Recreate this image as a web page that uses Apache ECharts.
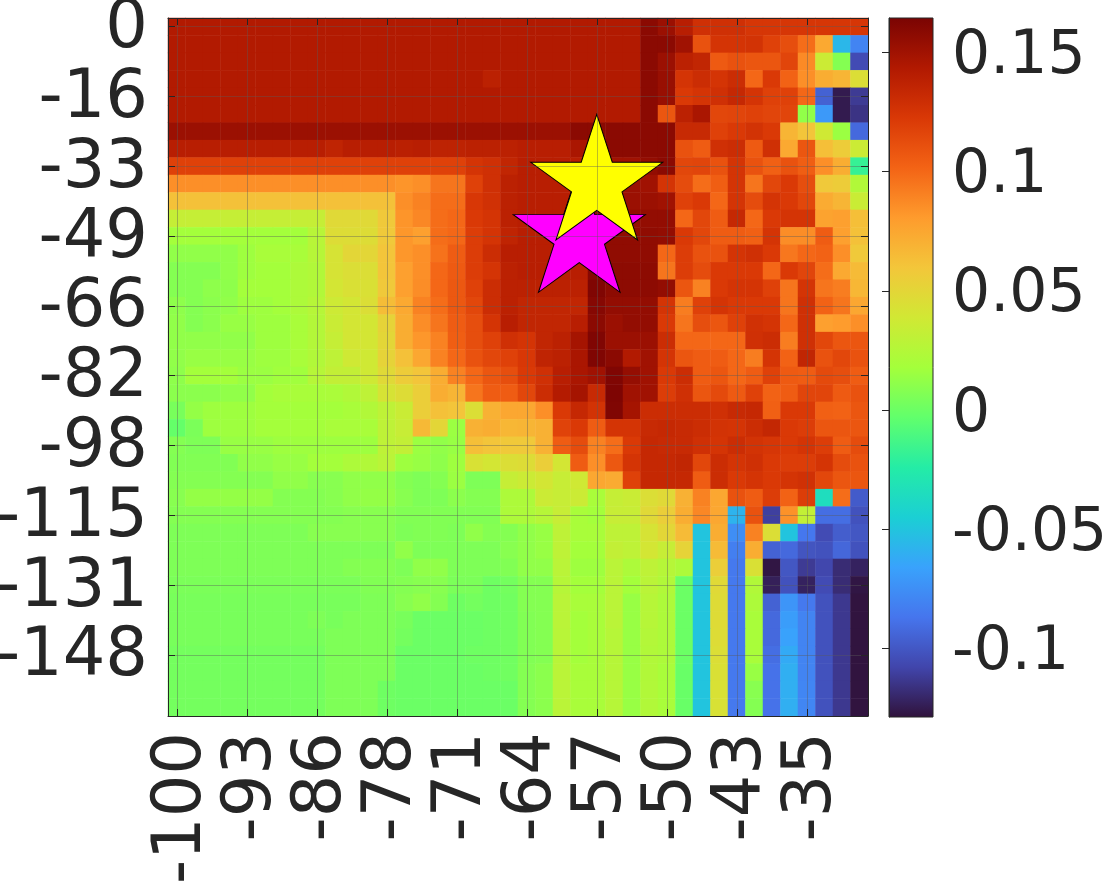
<!DOCTYPE html>
<html><head><meta charset="utf-8">
<script src="https://cdn.jsdelivr.net/npm/echarts@6/dist/echarts.min.js"></script>
<style>html,body{margin:0;padding:0;background:#fff}#c{width:1102px;height:885px}</style>
</head><body><div id="c"></div>
<script>
const xCategories=[-100,-98,-96,-95,-93,-91,-89,-87,-86,-84,-82,-80,-78,-77,-75,-73,-71,-69,-68,-66,-64,-62,-60,-59,-57,-55,-53,-52,-50,-48,-46,-44,-43,-41,-39,-37,-35,-34,-32,-30];
const yCategories=[0,-4,-8,-12,-16,-21,-25,-29,-33,-37,-41,-45,-49,-53,-57,-62,-66,-70,-74,-78,-82,-86,-90,-94,-98,-103,-107,-111,-115,-119,-123,-127,-131,-135,-139,-144,-148,-152,-156,-160];
const colorbarTicks=[-0.1,-0.05,0,0.05,0.1,0.15];
const colorMin=-0.1287, colorMax=0.1644;
const turbo=["#30123b","#4145ab","#4675ed","#39a2fc","#1bcfd4","#24eca6","#61ff6c","#a4ff3b","#d1e834","#f3c63a","#fe9b2d","#f36315","#d93806","#b11901","#7a0403"];
const yellowStar=[24,9], magentaStar=[23,12];
// values in thousandths, top row first
const r00=[143,143,143,143,143,143,143,143,143,143,143,143,143,143,143,143,143,143,143,143, 143,143,143,143,143,143,143,158,152,140,128,128,128,124,124,124,124,124,124,124];
const r01=[143,143,143,143,143,143,143,143,143,143,143,143,143,143,143,143,143,143,143,143, 143,143,143,143,143,143,143,158,158,150,110,125,125,126,118,112,98,74,-56,-80];
const r02=[143,143,143,143,143,143,143,143,143,143,143,143,143,143,143,143,143,143,143,143, 143,143,143,143,143,143,143,158,152,138,135,106,110,108,108,116,87,36,8,-105];
const r03=[143,143,143,143,143,143,143,143,143,143,143,143,143,143,143,143,143,143,138,143, 143,143,143,143,143,143,143,158,153,125,130,125,130,100,122,102,85,72,68,45];
const r04=[143,143,143,143,143,143,143,143,143,143,143,143,143,143,143,143,143,143,143,143, 143,143,143,143,143,143,143,158,153,122,125,128,133,125,118,118,100,-95,-125,-112];
const r05=[143,143,143,143,143,143,143,143,143,143,143,143,143,143,143,143,143,143,143,143, 143,143,143,143,143,143,143,158,108,138,146,115,116,118,116,116,12,-70,-125,-115];
const r06=[152,152,152,152,152,152,152,152,152,152,152,152,152,152,152,152,152,152,152,152, 152,152,152,158,158,158,158,158,158,132,132,118,122,126,122,68,60,38,15,-92];
const r07=[140,140,140,140,140,140,140,140,140,136,140,140,140,139,140,137,137,138,138,138, 140,140,140,146,158,158,158,158,158,110,105,128,130,106,128,74,108,63,56,36];
const r08=[118,118,118,118,118,118,118,118,118,118,118,118,118,118,118,118,118,125,128,135, 140,140,140,140,150,150,150,155,158,115,116,110,125,110,103,110,104,85,72,-18];
const r09=[85,85,85,85,85,85,85,85,85,85,85,85,85,83,85,95,95,118,128,138, 140,140,140,140,152,152,152,150,125,113,98,104,125,95,115,122,112,58,56,24];
const r10=[62,62,62,62,62,62,62,62,62,62,62,62,62,85,90,98,98,123,127,138, 140,140,140,140,152,152,152,152,150,118,122,100,125,113,125,122,115,73,68,35];
const r11=[33,33,33,33,33,33,33,33,33,48,48,48,58,83,88,98,100,122,125,138, 140,140,140,140,155,155,155,155,155,100,115,105,133,100,122,125,125,77,78,63];
const r12=[18,18,18,18,18,18,18,18,27,46,46,46,58,82,78,98,100,120,125,136, 140,140,140,140,156,156,156,156,155,122,115,105,105,103,125,86,86,105,78,62];
const r13=[12,12,12,12,16,20,20,20,26,42,50,50,60,82,85,96,105,120,130,140, 140,140,140,140,158,156,156,156,100,120,110,110,125,128,122,94,100,102,85,58];
const r14=[8,8,8,12,16,18,18,22,24,42,45,45,60,78,85,100,106,120,125,138, 140,140,140,140,160,157,157,157,95,120,113,122,122,122,100,122,116,98,74,65];
const r15=[8,8,11,11,18,18,18,22,24,40,44,44,58,78,86,100,107,118,130,138, 138,138,138,138,162,157,157,157,155,108,90,122,125,125,118,95,125,95,92,67];
const r16=[11,8,10,12,16,16,18,22,26,37,40,45,64,74,90,98,107,115,130,138, 135,135,135,135,160,155,155,155,125,92,118,125,122,122,122,95,128,102,95,75];
const r17=[12,8,10,14,14,16,16,20,25,35,40,40,52,72,86,95,105,112,125,140, 135,135,135,140,158,152,155,155,122,95,112,108,118,127,125,100,128,78,80,85];
const r18=[12,12,12,12,12,16,16,20,25,33,40,40,50,72,82,90,104,112,118,128, 125,135,138,148,162,152,152,152,130,100,100,100,100,128,130,92,128,115,108,108];
const r19=[12,14,14,14,14,16,16,20,24,30,38,38,52,62,75,90,100,110,115,118, 123,136,138,146,162,158,143,150,125,108,105,105,100,92,125,102,135,110,115,110];
const r20=[11,18,18,18,15,15,17,17,26,32,32,38,48,56,60,72,90,100,108,112, 122,128,140,146,150,162,154,150,122,130,105,108,100,105,118,106,105,114,112,105];
const r21=[10,10,10,12,12,18,20,20,20,21,24,30,42,46,55,72,68,95,105,105, 115,130,142,148,132,163,150,150,120,128,108,114,106,118,102,105,116,116,106,110];
const r22=[4,13,16,16,16,18,18,18,18,18,20,24,30,35,55,62,60,45,70,75, 75,85,122,133,126,162,148,130,130,130,130,128,132,133,103,122,122,103,102,108];
const r23=[-2,5,16,16,16,18,18,18,18,20,20,20,30,34,66,50,15,70,72,67, 68,70,117,122,105,125,125,132,133,132,130,126,125,130,134,122,120,108,108,108];
const r24=[8,6,6,14,14,14,16,16,16,16,16,16,30,32,15,12,14,63,60,58, 58,70,105,113,90,98,122,133,132,132,128,125,130,126,124,122,125,120,105,113];
const r25=[7,7,7,7,12,12,14,14,18,18,22,24,28,16,14,11,16,43,40,45, 46,55,40,105,85,107,125,133,133,135,115,130,125,128,122,120,120,125,113,110];
const r26=[8,8,8,8,8,8,12,12,9,9,12,12,12,8,6,8,15,6,6,33, 36,40,34,38,75,73,118,133,133,133,105,130,122,125,122,125,127,115,108,108];
const r27=[9,13,13,13,13,13,8,8,8,9,12,13,13,9,6,6,10,8,8,22, 22,36,34,36,20,33,35,45,48,70,90,75,110,105,120,102,120,-35,98,-98];
const r28=[8,8,8,8,8,8,8,8,8,8,9,9,9,7,7,7,7,7,7,22, 22,26,34,20,18,34,34,48,55,72,88,75,-58,110,-110,84,32,-90,-90,-102];
const r29=[6,6,6,6,6,6,6,6,9,9,9,9,9,6,7,7,6,12,8,8, 12,14,30,20,20,30,30,42,50,65,-50,72,-75,90,45,-50,-86,-105,-97,-100];
const r30=[6,6,6,6,6,6,6,6,6,6,6,6,6,12,6,6,6,6,6,9, 12,14,30,18,18,32,30,40,34,52,-50,65,-82,72,-95,-92,-101,-102,-93,-102];
const r31=[6,6,6,6,6,6,6,6,6,6,8,8,8,6,12,12,6,6,6,7, 12,12,28,16,16,28,22,30,26,22,-50,55,-85,44,-127,-100,-112,-107,-118,-122];
const r32=[5,5,5,5,5,5,5,5,5,5,5,7,7,8,9,9,5,5,1,3, 8,8,26,18,18,28,18,28,24,0,-50,48,-85,24,-123,-102,-122,-105,-118,-127];
const r33=[4,4,4,4,4,4,4,4,4,4,4,6,6,9,12,8,1,3,1,2, 8,8,28,20,20,28,14,26,22,0,-50,47,-85,22,-95,-72,-85,-102,-113,-128];
const r34=[4,4,4,4,4,4,4,4,6,4,6,6,6,4,0,0,0,0,1,2, 7,8,28,18,20,28,14,26,22,0,-50,47,-85,20,-92,-68,-80,-102,-113,-128];
const r35=[4,4,4,4,4,4,4,4,4,6,6,6,6,3,0,0,0,0,1,2, 7,8,27,18,20,26,14,25,22,0,-50,46,-85,20,-92,-66,-80,-102,-113,-128];
const r36=[3,3,3,3,3,3,3,3,3,6,6,6,6,0,0,0,0,1,1,2, 7,8,27,18,20,26,14,24,22,0,-50,45,-85,20,-90,-62,-80,-102,-113,-128];
const r37=[3,3,3,3,3,3,3,3,3,6,6,6,6,0,0,0,0,0,1,2, 8,10,28,20,20,26,14,24,20,-1,-50,44,-85,14,-88,-60,-80,-102,-113,-128];
const r38=[3,3,3,3,3,3,3,3,3,6,6,6,1,0,0,0,0,0,0,0, 8,10,28,20,20,26,14,24,20,-1,-50,43,-85,9,-88,-60,-79,-102,-113,-128];
const r39=[3,3,3,3,3,3,3,3,3,6,6,6,1,0,0,0,0,0,0,0, 8,10,28,20,20,26,14,24,20,-1,-50,43,-85,8,-88,-60,-79,-102,-113,-128];
const rows=[r00,r01,r02,r03,r04,r05,r06,r07,r08,r09,r10,r11,r12,r13,r14,r15,r16,r17,r18,r19,r20,r21,r22,r23,r24,r25,r26,r27,r28,r29,r30,r31,r32,r33,r34,r35,r36,r37,r38,r39];

const cells=[];
rows.forEach((row,y)=>row.forEach((v,x)=>cells.push([x,y,v/1000])));

const INK='#262626', FONT='DejaVu Sans', FS=67, CBFS=60;
const starPath='path://M50 0L61.2 34.5L97.6 34.5L68.2 55.9L79.4 90.5L50 69.1L20.6 90.5L31.8 55.9L2.4 34.5L38.8 34.5Z';
const gridLine={show:true,interval:3,alignWithLabel:true,lineStyle:{color:'rgba(90,90,90,0.4)',width:1}};
const tick={show:true,inside:true,length:7,interval:3,alignWithLabel:true,lineStyle:{color:INK,width:1}};
const line={show:true,lineStyle:{color:INK,width:1}};
const star=(pt,color,z)=>({type:'scatter',xAxisIndex:0,yAxisIndex:0,z,symbol:starPath,symbolSize:[132,125.5],symbolOffset:[0,-6.6],
  itemStyle:{color,opacity:1,borderColor:'#000',borderWidth:1},data:[pt],silent:true});
const barFill=new echarts.graphic.LinearGradient(0,1,0,0,turbo.map((c,i)=>({offset:i/(turbo.length-1),color:c})));
const richLabel=(size,pad)=>({a:{fontSize:size,color:INK,fontFamily:FONT,padding:[pad,0,0,0]}});

const chart=echarts.init(document.getElementById('c'),null,{renderer:'canvas'});
chart.setOption({
  animation:false,backgroundColor:'#fff',
  textStyle:{fontFamily:FONT},
  grid:[
    {left:168,top:18,width:700,height:698,containLabel:false,outerBoundsMode:'none'},
    {left:889,top:18,width:44,height:699,containLabel:false,outerBoundsMode:'none',show:true,borderColor:INK,borderWidth:1,backgroundColor:barFill}
  ],
  xAxis:[
    {type:'category',gridIndex:0,data:xCategories,position:'bottom',z:10,axisLine:line,axisTick:tick,splitLine:gridLine,
      axisLabel:{interval:3,rotate:90,fontSize:FS,color:INK,fontFamily:FONT,margin:16,hideOverlap:false,formatter:v=>`{a|${v}}`,rich:richLabel(FS,12)}},
    {type:'category',gridIndex:0,data:xCategories,position:'top',z:10,axisLine:line,axisTick:tick,splitLine:{show:false},axisLabel:{show:false}},
    {type:'value',gridIndex:1,min:0,max:1,show:false}
  ],
  yAxis:[
    {type:'category',gridIndex:0,data:yCategories,inverse:true,position:'left',z:10,axisLine:line,axisTick:tick,splitLine:gridLine,
      axisLabel:{interval:3,fontSize:FS,color:INK,fontFamily:FONT,margin:20,hideOverlap:false,formatter:v=>`{a|${v}}`,rich:richLabel(FS,6)}},
    {type:'category',gridIndex:0,data:yCategories,inverse:true,position:'right',z:10,axisLine:line,axisTick:tick,splitLine:{show:false},axisLabel:{show:false}},
    {type:'value',gridIndex:1,min:colorMin,max:colorMax,position:'right',z:10,splitLine:{show:false},axisLine:line,
      axisTick:{show:true,inside:true,length:7,customValues:colorbarTicks,lineStyle:{color:INK,width:1}},
      axisLabel:{customValues:colorbarTicks,fontSize:CBFS,color:INK,fontFamily:FONT,margin:19,formatter:v=>`{a|${v}}`,rich:richLabel(CBFS,10),hideOverlap:false}}
  ],
  visualMap:{type:'continuous',seriesIndex:0,min:colorMin,max:colorMax,calculable:false,show:false,inRange:{color:turbo}},
  series:[
    {type:'heatmap',xAxisIndex:0,yAxisIndex:0,data:cells,z:2,silent:true,progressive:0,itemStyle:{borderWidth:0}},
    star(magentaStar,'#ff00ff',3),
    star(yellowStar,'#ffff00',4)
  ]
});
</script></body></html>
